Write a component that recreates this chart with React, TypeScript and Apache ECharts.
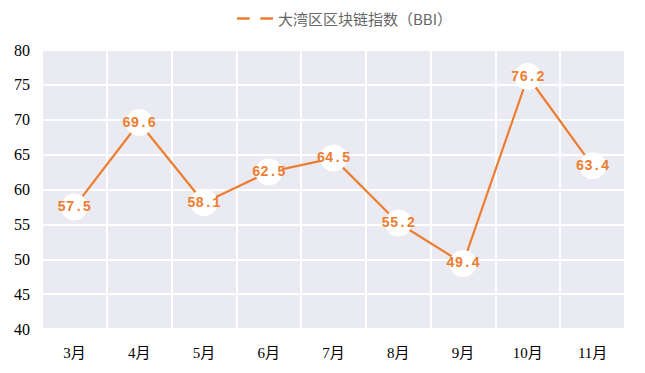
import React, { useEffect, useRef } from "react";
import * as echarts from "echarts";

const categories = ["3月", "4月", "5月", "6月", "7月", "8月", "9月", "10月", "11月"];
const bbiValues = [57.5, 69.6, 58.1, 62.5, 64.5, 55.2, 49.4, 76.2, 63.4];
const seriesName = "大湾区区块链指数（BBI）";

export default function App() {
  const ref = useRef<HTMLDivElement>(null);
  useEffect(() => {
    if (!ref.current) return;
    const chart = echarts.init(ref.current, undefined, { renderer: "svg" });
    chart.setOption({
      animation: false,
      legend: {
        top: 6,
        left: 232,
        itemWidth: 36,
        itemHeight: 14,
        itemGap: 6,
        textStyle: { color: "#666", fontSize: 15, fontFamily: "Noto Sans CJK SC" },
        data: [
          {
            name: seriesName,
            icon: "path://M0,6 L12,6 L12,8.4 L0,8.4 Z M22,6 L34,6 L34,8.4 L22,8.4 Z",
            itemStyle: { color: "#ED7D31" },
          },
        ],
      },
      grid: {
        left: 42,
        right: 20,
        top: 50,
        bottom: 44,
        show: true,
        backgroundColor: "#EAEAF2",
        borderWidth: 0,
      },
      xAxis: {
        type: "category",
        data: categories,
        boundaryGap: true,
        axisLine: { show: false },
        axisTick: { show: false },
        axisLabel: { color: "#000", fontSize: 15, fontFamily: "'Liberation Serif', 'Noto Sans CJK SC'", margin: 16 },
        splitLine: { show: true, lineStyle: { color: "#fff", width: 2 } },
      },
      yAxis: {
        type: "value",
        min: 40,
        max: 80,
        interval: 5,
        axisLine: { show: false },
        axisTick: { show: false },
        axisLabel: { color: "#000", fontSize: 16, fontFamily: "'Liberation Serif'", margin: 12 },
        splitLine: { show: true, lineStyle: { color: "#fff", width: 2 } },
      },
      series: [
        {
          name: seriesName,
          type: "line",
          data: bbiValues,
          symbol: "circle",
          symbolSize: 27,
          itemStyle: { color: "#fff" },
          lineStyle: { color: "#ED7D31", width: 2.2 },
          label: {
            show: true,
            position: "inside",
            color: "#ED7D31",
            fontWeight: "bold",
            fontSize: 14,
            fontFamily: "'Liberation Mono'",
          },
        },
      ],
    });
    return () => chart.dispose();
  }, []);
  return (
    <div
      ref={ref}
      style={{ position: "absolute", left: 0, top: 0, width: 645, height: 373 }}
    />
  );
}
